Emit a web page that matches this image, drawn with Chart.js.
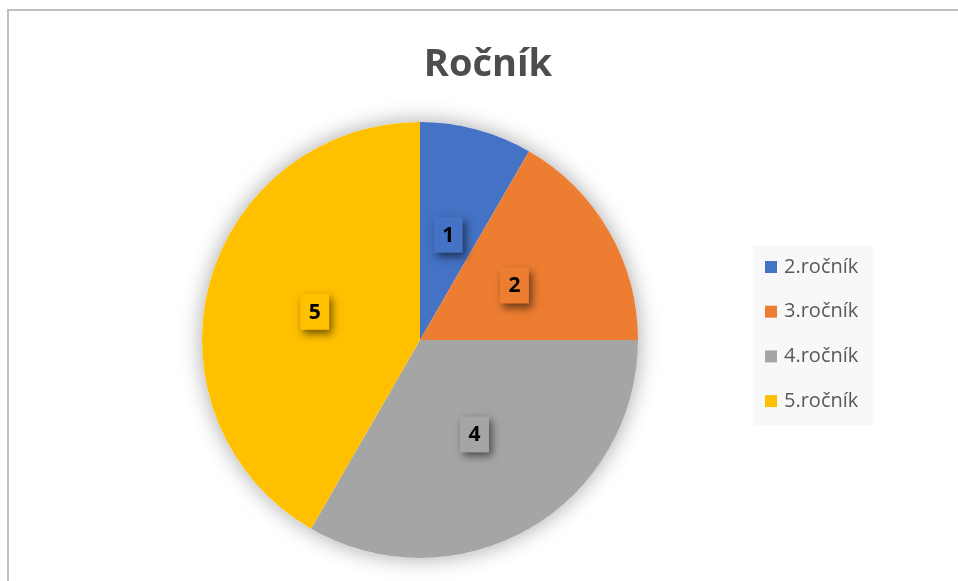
<!DOCTYPE html>
<html>
<head>
<meta charset="utf-8">
<script src="https://cdn.jsdelivr.net/npm/chart.js@4/dist/chart.umd.min.js"></script>
<style>
    html, body { margin: 0; padding: 0; background: #fff; }
    #wrap { position: relative; width: 958px; height: 581px; overflow: hidden; }
    #frame { position: absolute; left: 7px; top: 9px; width: 1000px; height: 700px;
             border-top: 2px solid #bfbfbf; border-left: 2px solid #bfbfbf; }
    canvas { position: absolute; left: 0; top: 0; }
</style>
</head>
<body>
<div id="wrap">
    <div id="frame"></div>
    <canvas id="rocnik-pie" width="958" height="581"></canvas>
</div>
<script>
// Ročník pie
let title = 'Ročník';
let labels = ['2.ročník', '3.ročník', '4.ročník', '5.ročník'];
let values = [1, 2, 4, 5];
let colorHex = ['#4472C4', '#ED7D31', '#A5A5A5', '#FFC000'];

// soft shadow under the pie
const pieShadow = {
    id: 'pieShadow',
    beforeDatasetsDraw(chart) {
        let arc = chart.getDatasetMeta(0).data[0];
        if (!arc) return;
        let ctx = chart.ctx;
        ctx.save();
        ctx.shadowColor = 'rgba(0,0,0,0.35)';
        ctx.shadowBlur = 22;
        ctx.beginPath();
        ctx.arc(arc.x, arc.y, arc.outerRadius, 0, Math.PI * 2);
        ctx.fillStyle = '#fff';
        ctx.fill();
        ctx.restore();
    }
};

// value boxes in the slices
const valueBoxes = {
    id: 'valueBoxes',
    afterDatasetsDraw(chart) {
        let ctx = chart.ctx;
        let meta = chart.getDatasetMeta(0);
        meta.data.forEach((arc, i) => {
            let p = arc.tooltipPosition();
            let w = 29, h = 36;
            ctx.save();
            ctx.shadowColor = 'rgba(0,0,0,0.55)';
            ctx.shadowBlur = 8;
            ctx.shadowOffsetX = 3;
            ctx.shadowOffsetY = 4;
            ctx.fillStyle = colorHex[i];
            ctx.fillRect(p.x - w / 2, p.y - h / 2, w, h);
            ctx.restore();
            ctx.save();
            ctx.fillStyle = '#000';
            ctx.font = 'bold 21px "Open Sans"';
            ctx.textAlign = 'center';
            ctx.textBaseline = 'middle';
            ctx.fillText(String(values[i]), p.x, p.y + 1);
            ctx.restore();
        });
    }
};

// title and legend, placed like the original
const titleLegend = {
    id: 'titleLegend',
    afterDraw(chart) {
        let ctx = chart.ctx;
        ctx.save();
        ctx.fillStyle = '#4d4d4d';
        ctx.font = 'bold 38px "Open Sans"';
        ctx.textAlign = 'center';
        ctx.textBaseline = 'alphabetic';
        ctx.fillText(title, 488, 76);

        ctx.fillStyle = '#f8f8f8';
        ctx.fillRect(753, 245, 120, 180);
        ctx.font = '20px "Open Sans"';
        ctx.textAlign = 'left';
        ctx.textBaseline = 'middle';
        labels.forEach((lab, i) => {
            let y = 267 + i * 44.7;
            ctx.fillStyle = colorHex[i];
            ctx.fillRect(765, y - 6, 12, 12);
            ctx.fillStyle = '#595959';
            ctx.fillText(lab, 784, y);
        });
        ctx.restore();
    }
};

let ctx = document.getElementById('rocnik-pie').getContext('2d');
let myChart = new Chart(ctx, {
    type: 'pie',
    data: {
        labels: labels,
        datasets: [{
            data: values,
            backgroundColor: colorHex,
            borderWidth: 0
        }]
    },
    options: {
        responsive: false,
        animation: false,
        layout: {
            padding: { left: 202, right: 320, top: 122, bottom: 23 }
        },
        plugins: {
            legend: { display: false },
            title: { display: false },
            tooltip: { enabled: false }
        }
    },
    plugins: [pieShadow, valueBoxes, titleLegend]
});
</script>
</body>
</html>
